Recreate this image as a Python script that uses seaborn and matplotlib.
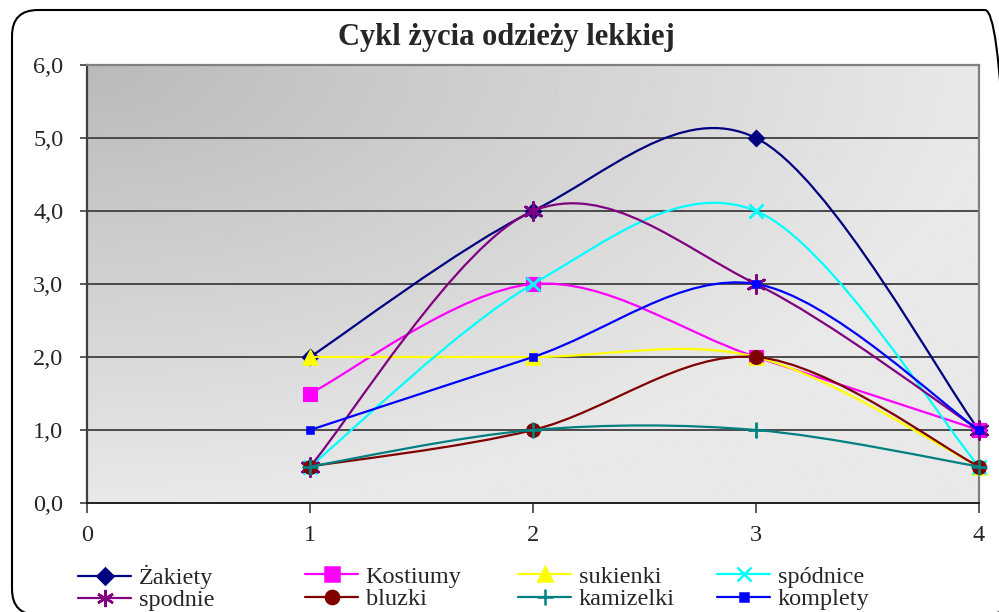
import numpy as np
import matplotlib
matplotlib.use('Agg')
import matplotlib.pyplot as plt
import seaborn as sns
from matplotlib.path import Path
from matplotlib.patches import PathPatch, FancyBboxPatch
from matplotlib.lines import Line2D

# data
x_vals = [1, 2, 3, 4]
zakiety = [2.0, 4.0, 5.0, 1.0]
kostiumy = [1.5, 3.0, 2.0, 1.0]
sukienki = [2.0, 2.0, 2.0, 0.5]
spodnice = [0.5, 3.0, 4.0, 0.5]
spodnie = [0.5, 4.0, 3.0, 1.0]
bluzki = [0.5, 1.0, 2.0, 0.5]
kamizelki = [0.5, 1.0, 1.0, 0.5]
komplety = [1.0, 2.0, 3.0, 1.0]

names = ['Żakiety', 'Kostiumy', 'sukienki', 'spódnice',
         'spodnie', 'bluzki', 'kamizelki', 'komplety']
series = [zakiety, kostiumy, sukienki, spodnice, spodnie, bluzki, kamizelki, komplety]
colors = ['#000080', '#FF00FF', '#FFFF00', '#00FFFF',
          '#800080', '#800000', '#008080', '#0000FF']
markers = ['D', 's', '^', 'x', (6, 2, 0), 'o', '+', 's']
msizes = [8.5, 10, 11, 10, 13, 10, 12, 5.5]

y_ticks = [0, 1, 2, 3, 4, 5, 6]
x_ticks = [0, 1, 2, 3, 4]


def smooth_path(xs, ys):
    # Excel-style smoothed line as cubic Bezier segments through the data points
    pts = np.column_stack([xs, ys]).astype(float)
    n = len(pts)
    verts = [pts[0]]
    codes = [Path.MOVETO]
    for i in range(n - 1):
        p0 = pts[max(i - 1, 0)]
        p1 = pts[i]
        p2 = pts[i + 1]
        p3 = pts[min(i + 2, n - 1)]
        verts += [p1 + (p2 - p0) / 6, p2 - (p3 - p1) / 6, p2]
        codes += [Path.CURVE4] * 3
    return Path(verts, codes)


sns.set_theme(style='white')
plt.rcParams['font.family'] = ['Liberation Serif', 'DejaVu Serif']

fig = plt.figure(figsize=(9.99, 6.12), dpi=100)

# rounded chart border
border = FancyBboxPatch((0.12, -0.03), 9.99, 6.05,
                        boxstyle='round,pad=0,rounding_size=0.26',
                        transform=fig.dpi_scale_trans, fill=False,
                        edgecolor='black', linewidth=1.5)
fig.patches.append(border)

ax = fig.add_axes([87 / 999, 1 - 503 / 612, (979 - 87) / 999, (503 - 65) / 612])

# gradient background from the top-left corner
u = np.linspace(0, 1, 300)
v = np.linspace(0, 1, 200)
U, V = np.meshgrid(u, v)
t = np.clip(np.sqrt(U ** 2 + V ** 2), 0, 1)
g = (186 + 47 * t) / 255
ax.imshow(np.dstack([g, g, g]), extent=[0, 4, 0, 6], aspect='auto',
          origin='upper', zorder=0, interpolation='bilinear')

for i, (name, vals, c, m, ms) in enumerate(zip(names, series, colors, markers, msizes)):
    z = 3 + i
    ax.add_patch(PathPatch(smooth_path(x_vals, vals), fill=False,
                           edgecolor=c, linewidth=1.6, zorder=z))
    filled = m in ['D', 's', '^', 'o']
    kw = dict(edgecolor=c) if filled else dict(linewidth=2)
    sns.scatterplot(x=x_vals, y=vals, marker=m, color=c, s=ms ** 2,
                    zorder=z + 0.5, ax=ax, legend=False, clip_on=False, **kw)

ax.set_xlim(0, 4)
ax.set_ylim(0, 6)
ax.set_xticks(x_ticks)
ax.set_yticks(y_ticks)
ax.set_xticklabels([str(x) for x in x_ticks])
ax.set_yticklabels([f'{y:.1f}'.replace('.', ',') for y in y_ticks])
ax.tick_params(axis='y', length=5, width=1.2, color='#404040', pad=12,
               labelsize=17.5, left=True)
ax.tick_params(axis='x', length=7, width=1.2, color='#404040', pad=9,
               labelsize=17.5, bottom=True)
ax.set_xlabel('')
ax.set_ylabel('')
ax.grid(False)
for yv in y_ticks[1:]:
    ax.axhline(yv, color='#4a4a4a', linewidth=1.4, zorder=1)
ax.spines['left'].set_color('#404040')
ax.spines['left'].set_linewidth(1.6)
ax.spines['bottom'].set_color('#202020')
ax.spines['bottom'].set_linewidth(1.4)
ax.spines['top'].set_color('#808080')
ax.spines['top'].set_linewidth(1.6)
ax.spines['right'].set_color('#808080')
ax.spines['right'].set_linewidth(1.6)
for sp in ax.spines.values():
    sp.set_zorder(2)

fig.text(506 / 999, 1 - 38 / 612, 'Cykl życia odzieży lekkiej',
         ha='center', va='center', fontsize=22, fontweight='bold')

# legend: four columns, two rows (Excel row-major order)
col_x = [78, 305, 518, 717]
for col in range(4):
    handles = []
    labels = []
    for row in range(2):
        i = row * 4 + col
        handles.append(Line2D([], [], color=colors[i], linewidth=1.6,
                              marker=markers[i], markersize=msizes[i] * 0.95,
                              markerfacecolor=colors[i], markeredgecolor=colors[i],
                              markeredgewidth=1.8))
        labels.append(names[i])
    fig.legend(handles, labels, loc='center left',
               bbox_to_anchor=(col_x[col] / 999, 1 - 588 / 612),
               frameon=False, fontsize=17.5, handlelength=2.2,
               handletextpad=0.3, labelspacing=0.0, borderpad=0,
               borderaxespad=0)

fig.savefig('out.png', dpi=100)
